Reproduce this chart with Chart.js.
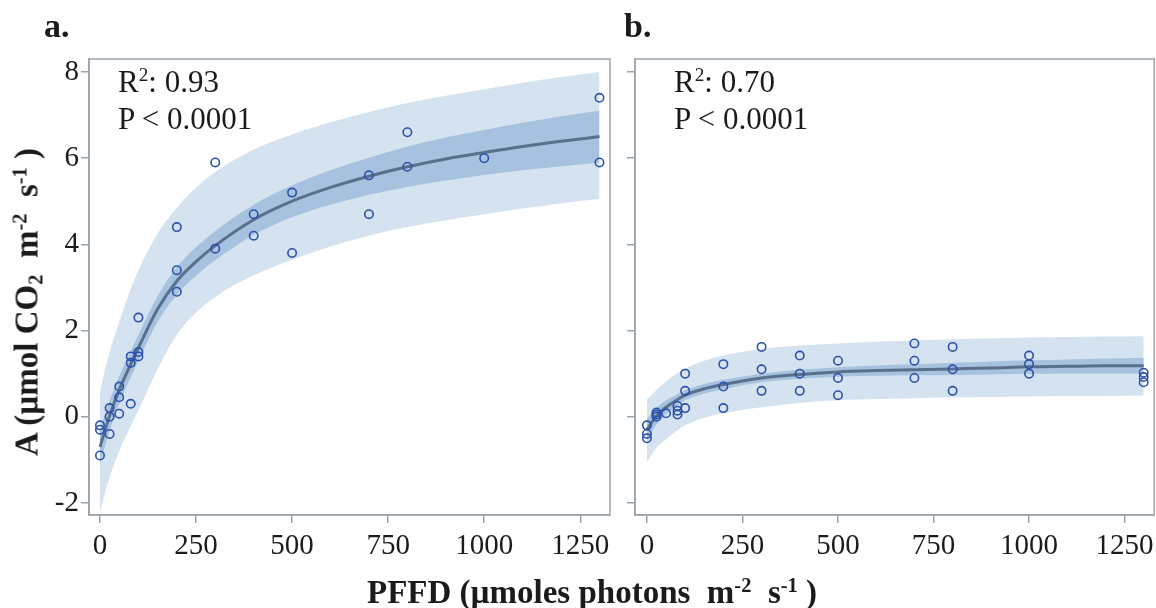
<!DOCTYPE html>
<html>
<head>
<meta charset="utf-8">
<script src="https://cdn.jsdelivr.net/npm/chart.js@4"></script>
<style>
  html, body { margin: 0; padding: 0; background: #fff; width: 1156px; height: 608px; overflow: hidden; }
  .panel { position: absolute; top: 0; height: 608px; }
  #pa { left: 0; width: 620px; }
  #pb { left: 620px; width: 540px; }
  .txt { position: absolute; font-family: "Liberation Serif", "Times New Roman", serif; color: #1b1b1b; white-space: nowrap; line-height: 1; }
  .bold { font-weight: bold; }
  .txt sup { font-size: 62%; vertical-align: 0.55em; line-height: 0; }
  .txt sub { font-size: 62%; vertical-align: -0.25em; line-height: 0; }
  .letter { font-size: 34px; }
  .stat { font-size: 31px; }
  .axt { font-size: 33px; }
</style>
</head>
<body>
<div class="panel" id="pa"><canvas id="ca"></canvas></div>
<div class="panel" id="pb"><canvas id="cb"></canvas></div>

<div class="txt bold letter" style="left:44px; top:9px;">a.</div>
<div class="txt bold letter" style="left:624px; top:9px;">b.</div>

<div class="txt stat" style="left:118px; top:66px;">R<sup>2</sup>: 0.93</div>
<div class="txt stat" style="left:118px; top:103px;">P &lt; 0.0001</div>
<div class="txt stat" style="left:674px; top:66px;">R<sup>2</sup>: 0.70</div>
<div class="txt stat" style="left:674px; top:103px;">P &lt; 0.0001</div>

<div class="txt bold axt" id="xt" style="left:592px; top:576px; transform:translateX(-50%);">PFFD (µmoles photons&nbsp; m<sup>-2</sup>&nbsp; s<sup>-1</sup> )</div>
<div class="txt bold axt" id="yt" style="left:27px; top:302px; transform:translate(-50%,-50%) rotate(-90deg);">A (µmol CO<sub>2</sub>&nbsp; m<sup>-2</sup>&nbsp; s<sup>-1</sup> )</div>

<script>
// ---- axis setup ----
const xTickValues = [0, 250, 500, 750, 1000, 1250];
const yTickValues = [-2, 0, 2, 4, 6, 8];
const yRange = [-2.28, 8.30];
const xRangeA = [-28.6, 1327.4];
const xRangeB = [-31.2, 1327.5];

// ---- panel a: fitted curve with confidence (dark) and prediction (light) bands ----
const fitXA    = [0, 25, 50, 75, 100, 150, 200, 250, 300, 400, 500, 600, 700, 800, 900, 1000, 1100, 1200, 1300];
const fitYA    = [-0.7, 0.02, 0.62, 1.12, 1.6, 2.5, 3.15, 3.6, 3.97, 4.57, 5.0, 5.32, 5.58, 5.8, 5.98, 6.13, 6.27, 6.39, 6.5];
const darkHiA  = [-0.3, 0.37, 0.94, 1.42, 1.9, 2.8, 3.47, 3.93, 4.31, 4.92, 5.37, 5.72, 6.01, 6.27, 6.48, 6.65, 6.82, 6.97, 7.1];
const darkLoA  = [-1.1, -0.33, 0.3, 0.82, 1.3, 2.2, 2.83, 3.27, 3.63, 4.22, 4.63, 4.92, 5.15, 5.33, 5.48, 5.61, 5.72, 5.81, 5.9];
const lightHiA = [0.6, 1.5, 2.2, 2.85, 3.4, 4.25, 4.85, 5.32, 5.68, 6.2, 6.55, 6.83, 7.07, 7.28, 7.45, 7.6, 7.75, 7.88, 8.0];
const lightLoA = [-2.2, -1.4, -0.8, -0.3, 0.15, 1.1, 1.9, 2.42, 2.78, 3.28, 3.64, 3.95, 4.2, 4.4, 4.56, 4.7, 4.83, 4.95, 5.05];

const obsXA = [0, 0, 0, 25, 25, 25, 50, 50, 50, 80, 80, 80, 100, 100, 100, 200, 200, 200, 300, 300, 400, 400, 500, 500, 700, 700, 800, 800, 1000, 1300, 1300];
const obsYA = [-0.2, -0.3, -0.9, 0.2, 0.0, -0.4, 0.7, 0.45, 0.07, 1.4, 1.25, 0.3, 2.3, 1.5, 1.4, 4.4, 3.4, 2.9, 5.9, 3.9, 4.7, 4.2, 5.2, 3.8, 5.6, 4.7, 6.6, 5.8, 6.0, 7.4, 5.9];

// ---- panel b ----
const fitXB    = [0, 25, 50, 75, 100, 150, 200, 300, 400, 500, 600, 700, 800, 900, 1000, 1100, 1200, 1300];
const fitYB    = [-0.3, 0.02, 0.22, 0.37, 0.5, 0.65, 0.75, 0.9, 0.98, 1.04, 1.07, 1.09, 1.11, 1.13, 1.16, 1.17, 1.18, 1.18];
const darkHiB  = [-0.05, 0.2, 0.38, 0.5, 0.62, 0.76, 0.86, 1.0, 1.09, 1.15, 1.19, 1.22, 1.25, 1.28, 1.31, 1.33, 1.35, 1.37];
const darkLoB  = [-0.55, -0.18, 0.06, 0.23, 0.38, 0.54, 0.64, 0.8, 0.88, 0.93, 0.95, 0.96, 0.97, 0.98, 1.0, 1.0, 1.0, 1.0];
const lightHiB = [0.4, 0.62, 0.82, 0.98, 1.12, 1.3, 1.42, 1.57, 1.65, 1.7, 1.74, 1.77, 1.8, 1.82, 1.84, 1.85, 1.86, 1.87];
const lightLoB = [-1.05, -0.72, -0.52, -0.35, -0.2, -0.03, 0.08, 0.22, 0.32, 0.38, 0.41, 0.43, 0.45, 0.46, 0.47, 0.48, 0.48, 0.49];

const obsXB = [0, 0, 0, 25, 25, 25, 50, 80, 80, 80, 100, 100, 100, 200, 200, 200, 300, 300, 300, 400, 400, 400, 500, 500, 500, 700, 700, 700, 800, 800, 800, 1000, 1000, 1000, 1300, 1300, 1300];
const obsYB = [-0.2, -0.4, -0.5, 0.1, 0.05, 0.0, 0.08, 0.25, 0.14, 0.05, 1.0, 0.6, 0.2, 1.22, 0.7, 0.2, 1.62, 1.1, 0.6, 1.42, 1.0, 0.6, 1.3, 0.9, 0.5, 1.7, 1.3, 0.9, 1.62, 1.1, 0.6, 1.42, 1.22, 1.0, 1.02, 0.92, 0.8];

// ---- styling ----
const AXIS_GRAY = '#9ba4ad';
const LIGHT_BAND = '#d5e3f0';
const DARK_BAND = '#a6c2df';
const CURVE = '#58708c';
const MARKER = '#2c51ab';
const SERIF = '"Liberation Serif", "Times New Roman", serif';

const pairs = (xs, ys) => xs.map((x, i) => ({ x, y: ys[i] }));

// outline of the plotting area
const frame = {
  id: 'frame',
  afterDraw(chart) {
    const { ctx, chartArea: a } = chart;
    ctx.save();
    ctx.strokeStyle = AXIS_GRAY;
    ctx.lineWidth = 1.5;
    ctx.strokeRect(a.left, a.top, a.right - a.left, a.bottom - a.top);
    ctx.restore();
  }
};

function buildPanel(canvasId, d) {
  // higher "order" is painted first, so bands sit underneath the curve and markers
  const band = (data, fill, color, order) => ({
    data, fill, order, backgroundColor: color, borderWidth: 0, pointRadius: 0,
    cubicInterpolationMode: 'monotone'
  });
  return new Chart(document.getElementById(canvasId), {
    type: 'line',
    data: {
      datasets: [
        band(pairs(d.fitX, d.lightHi), '+1', LIGHT_BAND, 6),
        band(pairs(d.fitX, d.lightLo), false, LIGHT_BAND, 5),
        band(pairs(d.fitX, d.darkHi), '+1', DARK_BAND, 4),
        band(pairs(d.fitX, d.darkLo), false, DARK_BAND, 3),
        {
          data: pairs(d.fitX, d.fitY), order: 2, borderColor: CURVE, borderWidth: 3,
          pointRadius: 0, fill: false, cubicInterpolationMode: 'monotone'
        },
        {
          data: pairs(d.obsX, d.obsY), order: 1, showLine: false, pointStyle: 'circle',
          pointRadius: 4.2, pointBorderWidth: 1.6, pointBorderColor: MARKER,
          pointBackgroundColor: 'rgba(0,0,0,0)'
        }
      ]
    },
    options: {
      responsive: false,
      animation: false,
      devicePixelRatio: 1,
      layout: { padding: { top: 59, right: d.padRight, left: 0, bottom: 0 } },
      plugins: { legend: { display: false }, tooltip: { enabled: false } },
      scales: {
        x: {
          type: 'linear', min: d.xRange[0], max: d.xRange[1],
          afterBuildTicks: s => { s.ticks = xTickValues.map(v => ({ value: v })); },
          afterFit: s => { s.height = 93; },
          grid: { drawOnChartArea: false, drawTicks: true, tickLength: 8, color: AXIS_GRAY, lineWidth: 1.5 },
          border: { display: true, color: AXIS_GRAY, width: 1.5 },
          ticks: {
            font: { family: SERIF, size: 29 }, color: '#1b1b1b', padding: 6, maxRotation: 0, autoSkip: false,
            callback: v => String(v)
          }
        },
        y: {
          type: 'linear', min: yRange[0], max: yRange[1],
          afterBuildTicks: s => { s.ticks = yTickValues.map(v => ({ value: v })); },
          afterFit: s => { s.width = d.yWidth; },
          grid: { drawOnChartArea: false, drawTicks: true, tickLength: 8, color: AXIS_GRAY, lineWidth: 1.5 },
          border: { display: true, color: AXIS_GRAY, width: 1.5 },
          ticks: {
            display: d.yLabels, font: { family: SERIF, size: 29 }, color: '#1b1b1b', padding: 2,
            callback: v => String(v)
          }
        }
      }
    },
    plugins: [frame]
  });
}

function sizeCanvas(id, w, h) {
  const c = document.getElementById(id);
  c.width = w; c.height = h;
  c.style.width = w + 'px'; c.style.height = h + 'px';
}
sizeCanvas('ca', 620, 608);
sizeCanvas('cb', 540, 608);

buildPanel('ca', {
  fitX: fitXA, fitY: fitYA, darkHi: darkHiA, darkLo: darkLoA, lightHi: lightHiA, lightLo: lightLoA,
  obsX: obsXA, obsY: obsYA, xRange: xRangeA, yWidth: 89, padRight: 10, yLabels: true
});
buildPanel('cb', {
  fitX: fitXB, fitY: fitYB, darkHi: darkHiB, darkLo: darkLoB, lightHi: lightHiB, lightLo: lightLoB,
  obsX: obsXB, obsY: obsYB, xRange: xRangeB, yWidth: 15, padRight: 3, yLabels: false
});
</script>
</body>
</html>
